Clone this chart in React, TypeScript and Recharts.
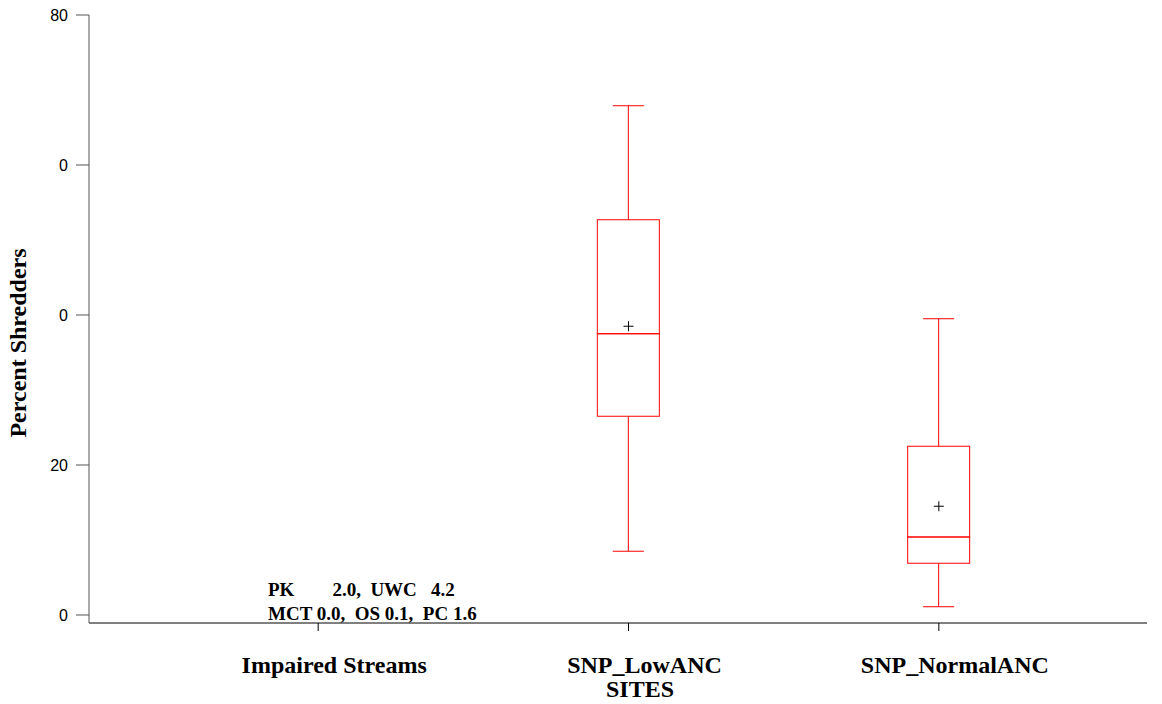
import { ComposedChart, Bar, Scatter, XAxis, YAxis } from 'recharts';

const sites = ['Impaired Streams', 'SNP_LowANC', 'SNP_NormalANC'];
const mins = [null, 8.5, 1.1];
const q1s = [null, 26.5, 6.9];
const medians = [null, 37.5, 10.4];
const q3s = [null, 52.7, 22.5];
const maxs = [null, 67.9, 39.5];
const means = [null, 38.5, 14.5];

const yTicks = [0, 20, 40, 60, 80];
const yTickLabels: Record<number, string> = { 0: '0', 20: '20', 40: '0', 60: '0', 80: '80' };

const note1 = 'PK        2.0,  UWC   4.2';
const note2 = 'MCT 0.0,  OS 0.1,  PC 1.6';

const RED = '#ff0000';
const serif = '"Liberation Serif", "Times New Roman", serif';
const sans = '"Liberation Sans", Arial, sans-serif';

const data = sites.map((name, i) => {
  const mn = mins[i];
  if (mn === null) return { name };
  return {
    name,
    base: mn,
    lowWhisker: (q1s[i] as number) - mn,
    lowBox: (medians[i] as number) - (q1s[i] as number),
    highBox: (q3s[i] as number) - (medians[i] as number),
    highWhisker: (maxs[i] as number) - (q3s[i] as number),
    mean: means[i],
  };
});

const hasBox = (p: any) => p.payload && p.payload.base != null;

const MinCap = (p: any) => {
  if (!hasBox(p)) return null;
  const cx = p.x + p.width / 2;
  return <line x1={cx - p.width / 4} x2={cx + p.width / 4} y1={p.y} y2={p.y} stroke={RED} strokeWidth={1} />;
};

const LowWhisker = (p: any) => {
  if (!hasBox(p)) return null;
  const cx = p.x + p.width / 2;
  return <line x1={cx} x2={cx} y1={p.y} y2={p.y + p.height} stroke={RED} strokeWidth={1} />;
};

const BoxPart = (p: any) => {
  if (!hasBox(p)) return null;
  return <rect x={p.x} y={p.y} width={p.width} height={p.height} fill="none" stroke={RED} strokeWidth={1} />;
};

const HighWhisker = (p: any) => {
  if (!hasBox(p)) return null;
  const cx = p.x + p.width / 2;
  return (
    <g>
      <line x1={cx} x2={cx} y1={p.y} y2={p.y + p.height} stroke={RED} strokeWidth={1} />
      <line x1={cx - p.width / 4} x2={cx + p.width / 4} y1={p.y} y2={p.y} stroke={RED} strokeWidth={1} />
    </g>
  );
};

const MeanCross = (p: any) => {
  if (p.cx == null || p.cy == null || !hasBox(p)) return null;
  return (
    <g>
      <line x1={p.cx - 5} x2={p.cx + 5} y1={p.cy} y2={p.cy} stroke="#000" strokeWidth={1} />
      <line x1={p.cx} x2={p.cx} y1={p.cy - 5} y2={p.cy + 5} stroke="#000" strokeWidth={1} />
    </g>
  );
};

const XTick = (p: any) => (
  <text
    x={p.x + 16}
    y={p.y + 40}
    textAnchor="middle"
    style={{ fontFamily: serif, fontWeight: 'bold', fontSize: 24, fill: '#000' }}
  >
    {p.payload.value}
  </text>
);

export default function App() {
  return (
    <div style={{ position: 'absolute', left: 0, top: 0, width: 1162, height: 704, background: '#fff' }}>
      <ComposedChart
        width={1162}
        height={704}
        data={data}
        margin={{ top: 15, right: 15, bottom: 0, left: 29 }}
        barSize={62}
      >
        <XAxis
          dataKey="name"
          height={81}
          padding={{ left: 74, right: 53 }}
          axisLine={{ stroke: '#000' }}
          tickLine={{ stroke: '#000' }}
          tickSize={8}
          tick={<XTick />}
          interval={0}
        />
        <YAxis
          type="number"
          width={60}
          domain={[-1.0667, 80]}
          ticks={yTicks}
          allowDataOverflow
          axisLine={{ stroke: '#555' }}
          tickLine={{ stroke: '#555' }}
          tickSize={13}
          tickMargin={8}
          tickFormatter={(v: number) => yTickLabels[v] ?? String(v)}
          tick={{ fill: '#000', fontSize: 16, fontFamily: sans }}
        />
        <Bar dataKey="base" stackId="box" shape={<MinCap />} isAnimationActive={false} />
        <Bar dataKey="lowWhisker" stackId="box" shape={<LowWhisker />} isAnimationActive={false} />
        <Bar dataKey="lowBox" stackId="box" shape={<BoxPart />} isAnimationActive={false} />
        <Bar dataKey="highBox" stackId="box" shape={<BoxPart />} isAnimationActive={false} />
        <Bar dataKey="highWhisker" stackId="box" shape={<HighWhisker />} isAnimationActive={false} />
        <Scatter dataKey="mean" shape={<MeanCross />} isAnimationActive={false} />
      </ComposedChart>

      <div
        style={{
          position: 'absolute',
          left: 18,
          top: 343,
          transform: 'translate(-50%, -50%) rotate(-90deg)',
          fontFamily: serif,
          fontWeight: 'bold',
          fontSize: 24,
          whiteSpace: 'nowrap',
        }}
      >
        Percent Shredders
      </div>
      <div
        style={{
          position: 'absolute',
          left: 268,
          top: 578,
          fontFamily: serif,
          fontWeight: 'bold',
          fontSize: 19,
          lineHeight: '24px',
          whiteSpace: 'pre',
        }}
      >
        {note1}
        {'\n'}
        {note2}
      </div>
      <div
        style={{
          position: 'absolute',
          left: 640,
          top: 676,
          transform: 'translateX(-50%)',
          fontFamily: serif,
          fontWeight: 'bold',
          fontSize: 24,
        }}
      >
        SITES
      </div>
    </div>
  );
}
